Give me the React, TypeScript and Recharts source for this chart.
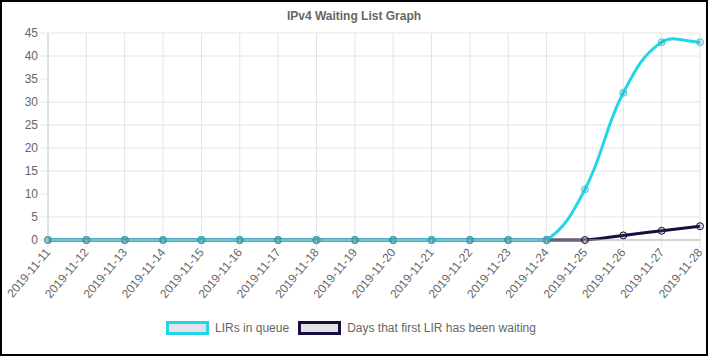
import { LineChart, Line, CartesianGrid, XAxis, YAxis, Legend } from "recharts";

const dates = [
  "2019-11-11", "2019-11-12", "2019-11-13", "2019-11-14", "2019-11-15", "2019-11-16",
  "2019-11-17", "2019-11-18", "2019-11-19", "2019-11-20", "2019-11-21", "2019-11-22",
  "2019-11-23", "2019-11-24", "2019-11-25", "2019-11-26", "2019-11-27", "2019-11-28",
];
const lirsInQueue = [0, 0, 0, 0, 0, 0, 0, 0, 0, 0, 0, 0, 0, 0, 11, 32, 43, 43];
const daysWaiting = [0, 0, 0, 0, 0, 0, 0, 0, 0, 0, 0, 0, 0, 0, 0, 1, 2, 3];
const yTicks = [0, 5, 10, 15, 20, 25, 30, 35, 40, 45];

const data = dates.map((d, i) => ({ date: d, lirs: lirsInQueue[i], days: daysWaiting[i] }));

const CYAN = "#22d6e8";
const NAVY = "#160f3e";
const POINT_FILL = "rgba(100,100,115,0.2)";
const FONT = "Arial, 'Liberation Sans', Helvetica, sans-serif";

const W = 704;
const H = 352;
const MARGIN = { top: 31, right: 6, left: 0, bottom: 11 };
const X_AXIS_H = 73;
const LEGEND_H = 30;
const PLOT_TOP = MARGIN.top;
const PLOT_BOTTOM = H - MARGIN.bottom - LEGEND_H - X_AXIS_H;

// chart.js style spline (tension 0.4), control points capped to plot area
const splineCurve = (context: any) => {
  let pts: number[][] = [];
  const t = 0.4;
  const cap = (v: number) => Math.max(PLOT_TOP, Math.min(PLOT_BOTTOM, v));
  return {
    areaStart() {},
    areaEnd() {},
    lineStart() {
      pts = [];
    },
    point(x: number, y: number) {
      pts.push([+x, +y]);
    },
    lineEnd() {
      const n = pts.length;
      if (!n) return;
      const cps = pts.map((cur, i) => {
        const prev = pts[i - 1] || cur;
        const next = pts[i + 1] || cur;
        const d01 = Math.hypot(cur[0] - prev[0], cur[1] - prev[1]);
        const d12 = Math.hypot(next[0] - cur[0], next[1] - cur[1]);
        let s01 = d01 / (d01 + d12);
        let s12 = d12 / (d01 + d12);
        if (isNaN(s01)) s01 = 0;
        if (isNaN(s12)) s12 = 0;
        const fa = t * s01;
        const fb = t * s12;
        return {
          px: cur[0] - fa * (next[0] - prev[0]),
          py: cap(cur[1] - fa * (next[1] - prev[1])),
          nx: cur[0] + fb * (next[0] - prev[0]),
          ny: cap(cur[1] + fb * (next[1] - prev[1])),
        };
      });
      context.moveTo(pts[0][0], pts[0][1]);
      for (let i = 1; i < n; i++) {
        context.bezierCurveTo(cps[i - 1].nx, cps[i - 1].ny, cps[i].px, cps[i].py, pts[i][0], pts[i][1]);
      }
    },
  };
};

const DateTick = (props: any) => {
  const { x, y, payload } = props;
  return (
    <g transform={`translate(${x},${y})`}>
      <text
        x={0}
        y={0}
        dy={4}
        textAnchor="end"
        fill="#666"
        fontSize={12}
        fontFamily={FONT}
        transform="rotate(-50)"
      >
        {payload.value}
      </text>
    </g>
  );
};

const LegendBox = () => {
  const items = [
    { label: "LIRs in queue", color: CYAN },
    { label: "Days that first LIR has been waiting", color: NAVY },
  ];
  return (
    <div
      style={{
        display: "flex",
        justifyContent: "center",
        alignItems: "center",
        gap: 9,
        height: LEGEND_H,
        fontFamily: FONT,
        fontSize: 12,
        color: "#666",
      }}
    >
      {items.map((it) => (
        <div key={it.label} style={{ display: "flex", alignItems: "center" }}>
          <span
            style={{
              display: "inline-block",
              width: 37,
              height: 8,
              border: `3px solid ${it.color}`,
              background: "#e2e2e8",
              marginRight: 6,
            }}
          />
          {it.label}
        </div>
      ))}
    </div>
  );
};

const App = () => {
  return (
    <div
      style={{
        position: "absolute",
        left: 0,
        top: 0,
        width: W + 4,
        height: H + 4,
        boxSizing: "border-box",
        border: "2px solid #000",
        background: "#fff",
      }}
    >
      <div
        style={{
          position: "absolute",
          top: 7,
          left: 0,
          width: W,
          textAlign: "center",
          fontFamily: FONT,
          fontSize: 12,
          fontWeight: "bold",
          color: "#666",
        }}
      >
        IPv4 Waiting List Graph
      </div>
      <LineChart width={W} height={H} data={data} margin={MARGIN}>
        <CartesianGrid stroke="#e4e4e4" vertical={true} />
        <XAxis
          dataKey="date"
          height={X_AXIS_H}
          interval={0}
          tick={<DateTick />}
          tickSize={8}
          tickLine={{ stroke: "#e4e4e4" }}
          axisLine={{ stroke: "#b5b5b5" }}
        />
        <YAxis
          domain={[0, 45]}
          ticks={yTicks}
          width={46}
          tickSize={8}
          tickMargin={2}
          tickLine={{ stroke: "#e4e4e4" }}
          axisLine={{ stroke: "#d0d0d0" }}
          tick={{ fill: "#666", fontSize: 12, fontFamily: FONT }}
        />
        <Legend verticalAlign="bottom" height={LEGEND_H} content={<LegendBox />} />
        <Line
          dataKey="days"
          name="Days that first LIR has been waiting"
          type={splineCurve as any}
          stroke={NAVY}
          strokeWidth={3}
          dot={{ r: 3.5, stroke: NAVY, strokeWidth: 1, fill: POINT_FILL }}
          isAnimationActive={false}
        />
        <Line
          dataKey="lirs"
          name="LIRs in queue"
          type={splineCurve as any}
          stroke={CYAN}
          strokeWidth={3}
          dot={{ r: 3.5, stroke: CYAN, strokeWidth: 1, fill: POINT_FILL }}
          isAnimationActive={false}
        />
      </LineChart>
    </div>
  );
};

export default App;
